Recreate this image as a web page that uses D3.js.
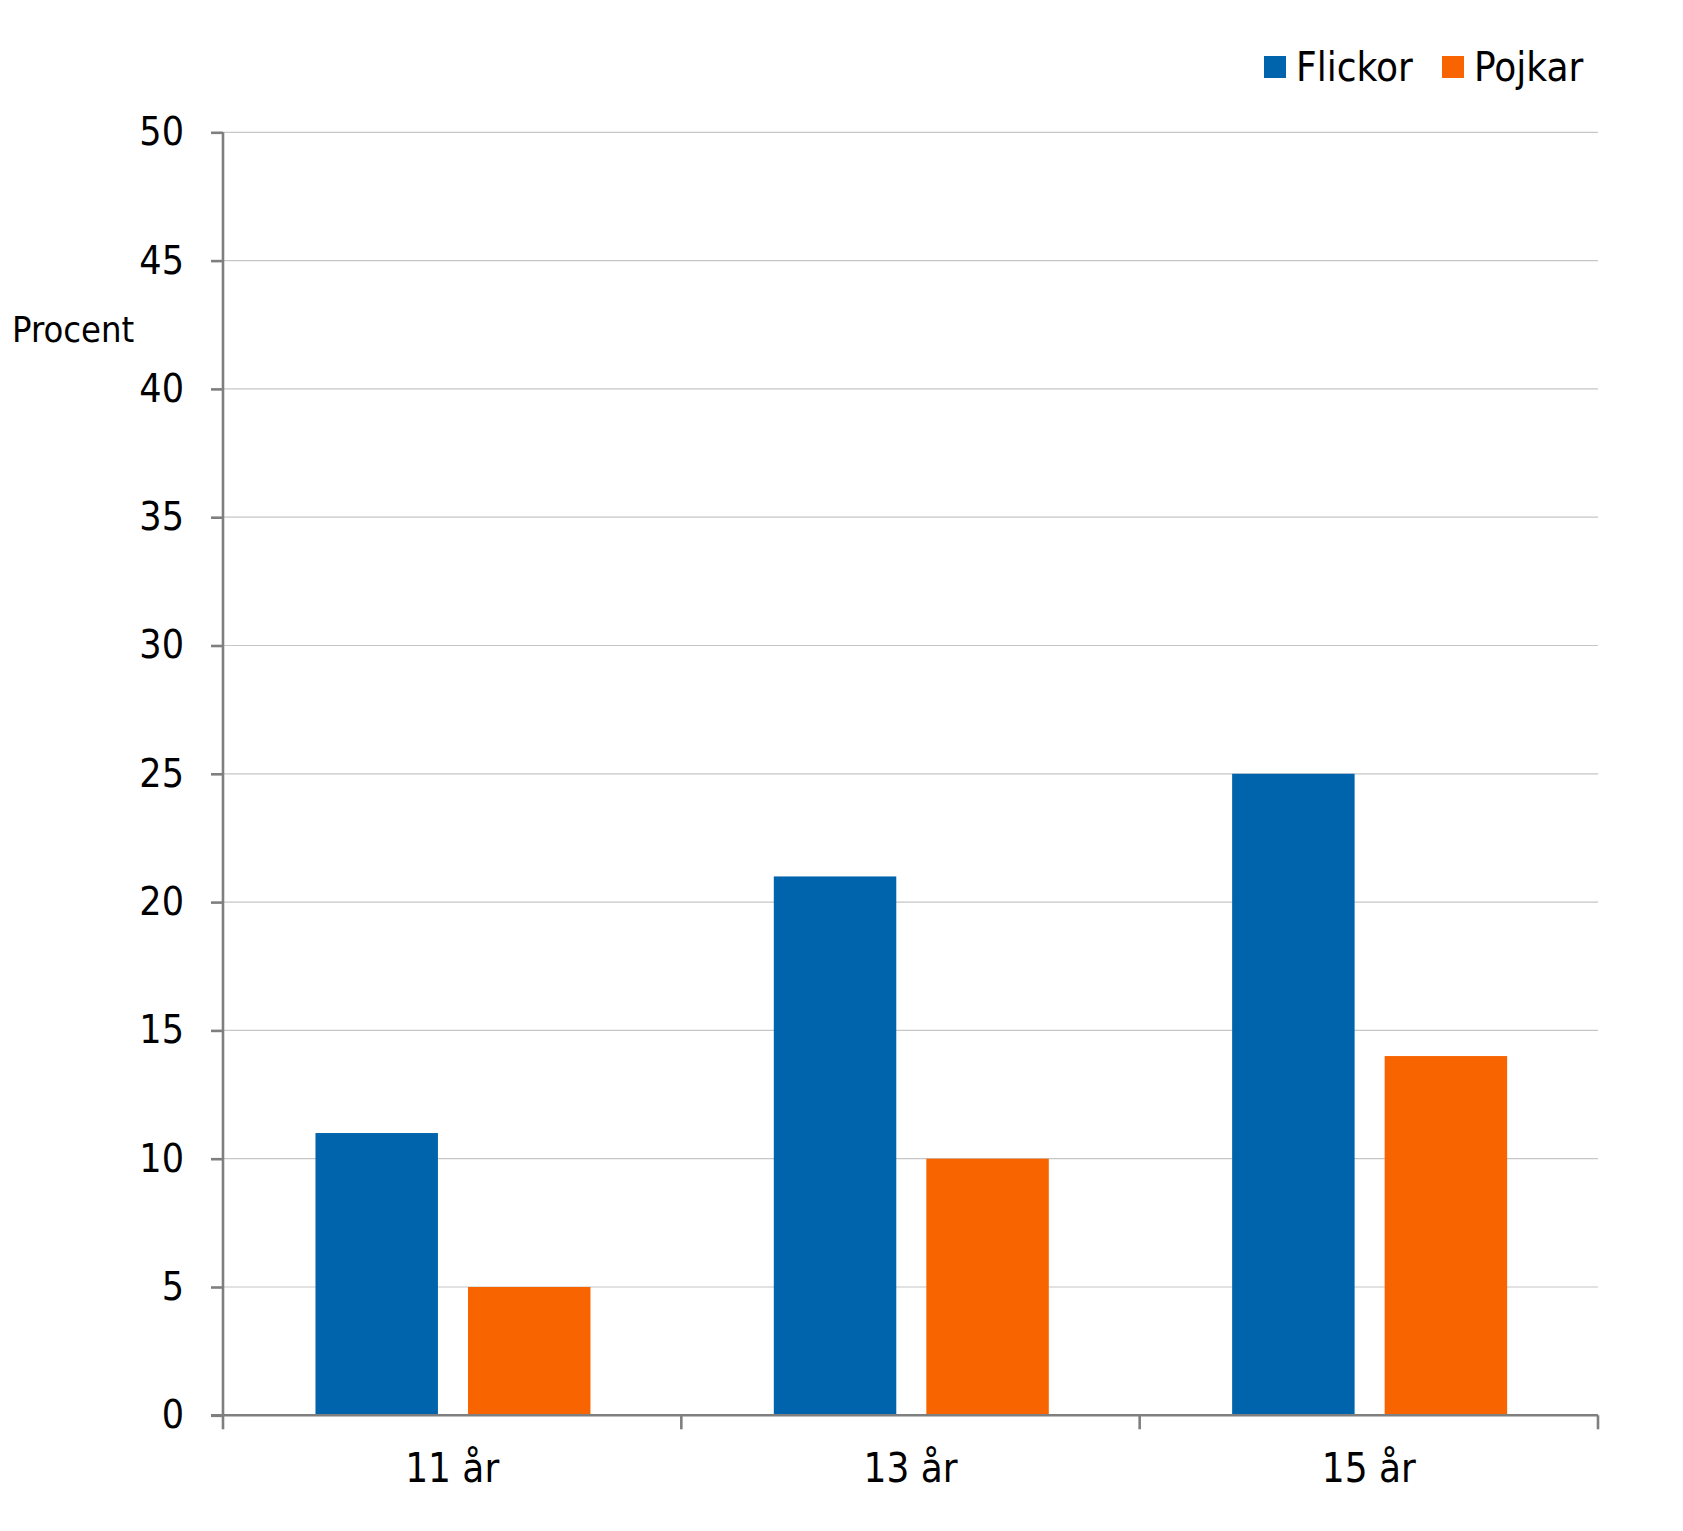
<!DOCTYPE html>
<html><head><meta charset="utf-8">
<script src="https://cdn.jsdelivr.net/npm/d3@7"></script>
<style>body{margin:0;background:#fff}svg{display:block}</style>
</head><body>
<script>
const categories = ["11 år", "13 år", "15 år"];
const seriesNames = ["Flickor", "Pojkar"];
const flickor = [11, 21, 25];
const pojkar = [5, 10, 14];
const yTicks = [0, 5, 10, 15, 20, 25, 30, 35, 40, 45, 50];
const colors = ["#0064AD", "#F86400"];
const FONT = "'DejaVu Sans Condensed','DejaVu Sans',sans-serif";

const W = 1683, H = 1531;
const mLeft = 223, mRight = 1598, mTop = 132.3, mBottom = 1415.3;
const svg = d3.select("body").append("svg").attr("width", W).attr("height", H);

const y = d3.scaleLinear().domain([0, 50]).range([mBottom, mTop]);
const x0 = d3.scaleBand().domain(categories).range([mLeft, mRight]).padding(0);
const x1 = d3.scaleBand().domain(seriesNames).range([0, x0.bandwidth()]).paddingInner(0.197).paddingOuter(0.601);

// gridlines
svg.append("g").selectAll("line").data(yTicks.filter(d => d > 0)).join("line")
  .attr("x1", mLeft).attr("x2", mRight)
  .attr("y1", d => y(d)).attr("y2", d => y(d))
  .attr("stroke", "#c6c6c6").attr("stroke-width", 1.2);

// bars
const data = categories.map((c, i) => ({cat: c, vals: [flickor[i], pojkar[i]]}));
const g = svg.append("g").selectAll("g").data(data).join("g")
  .attr("transform", d => `translate(${x0(d.cat) + 0.8},0)`);
g.selectAll("rect").data(d => d.vals.map((v, j) => ({v, s: seriesNames[j], j}))).join("rect")
  .attr("x", d => x1(d.s)).attr("width", x1.bandwidth())
  .attr("y", d => y(d.v)).attr("height", d => y(0) - y(d.v))
  .attr("fill", d => colors[d.j]);

// y axis
const yAxis = svg.append("g").attr("transform", `translate(${mLeft},0)`)
  .call(d3.axisLeft(y).tickValues(yTicks).tickSize(12).tickPadding(27));
yAxis.select(".domain").attr("stroke", "#7f7f7f").attr("stroke-width", 2.6).attr("d", `M0,${mTop}V${mBottom}`);
yAxis.selectAll(".tick line").attr("stroke", "#7f7f7f").attr("stroke-width", 2.6);
yAxis.selectAll(".tick text").attr("font-family", FONT).attr("font-size", 39).attr("fill", "#000");

// x axis
const xAxis = svg.append("g").attr("transform", `translate(0,${mBottom})`)
  .call(d3.axisBottom(x0).tickSize(0).tickPadding(38));
xAxis.select(".domain").attr("stroke", "#7f7f7f").attr("stroke-width", 2.6).attr("d", `M${mLeft - 12},0H${mRight}`);
xAxis.selectAll(".tick text").attr("font-family", FONT).attr("font-size", 40).attr("fill", "#000");
const boundaries = categories.map(c => x0(c)).concat([mRight]);
xAxis.append("g").selectAll("line").data(boundaries).join("line")
  .attr("x1", d => d).attr("x2", d => d).attr("y1", 0).attr("y2", 14)
  .attr("stroke", "#7f7f7f").attr("stroke-width", 2.6);

// y label
svg.append("text").attr("x", 12).attr("y", 342).text("Procent")
  .attr("font-family", FONT).attr("font-size", 36).attr("fill", "#000");

// legend
const legendX = [1264, 1442];
const lg = svg.append("g").selectAll("g").data(seriesNames).join("g")
  .attr("transform", (d, i) => `translate(${legendX[i]},56)`);
lg.append("rect").attr("width", 22).attr("height", 22).attr("fill", (d, i) => colors[i]);
lg.append("text").attr("x", 32).attr("y", 25).text(d => d)
  .attr("font-family", FONT).attr("font-size", 40).attr("fill", "#000");
</script>
</body></html>
